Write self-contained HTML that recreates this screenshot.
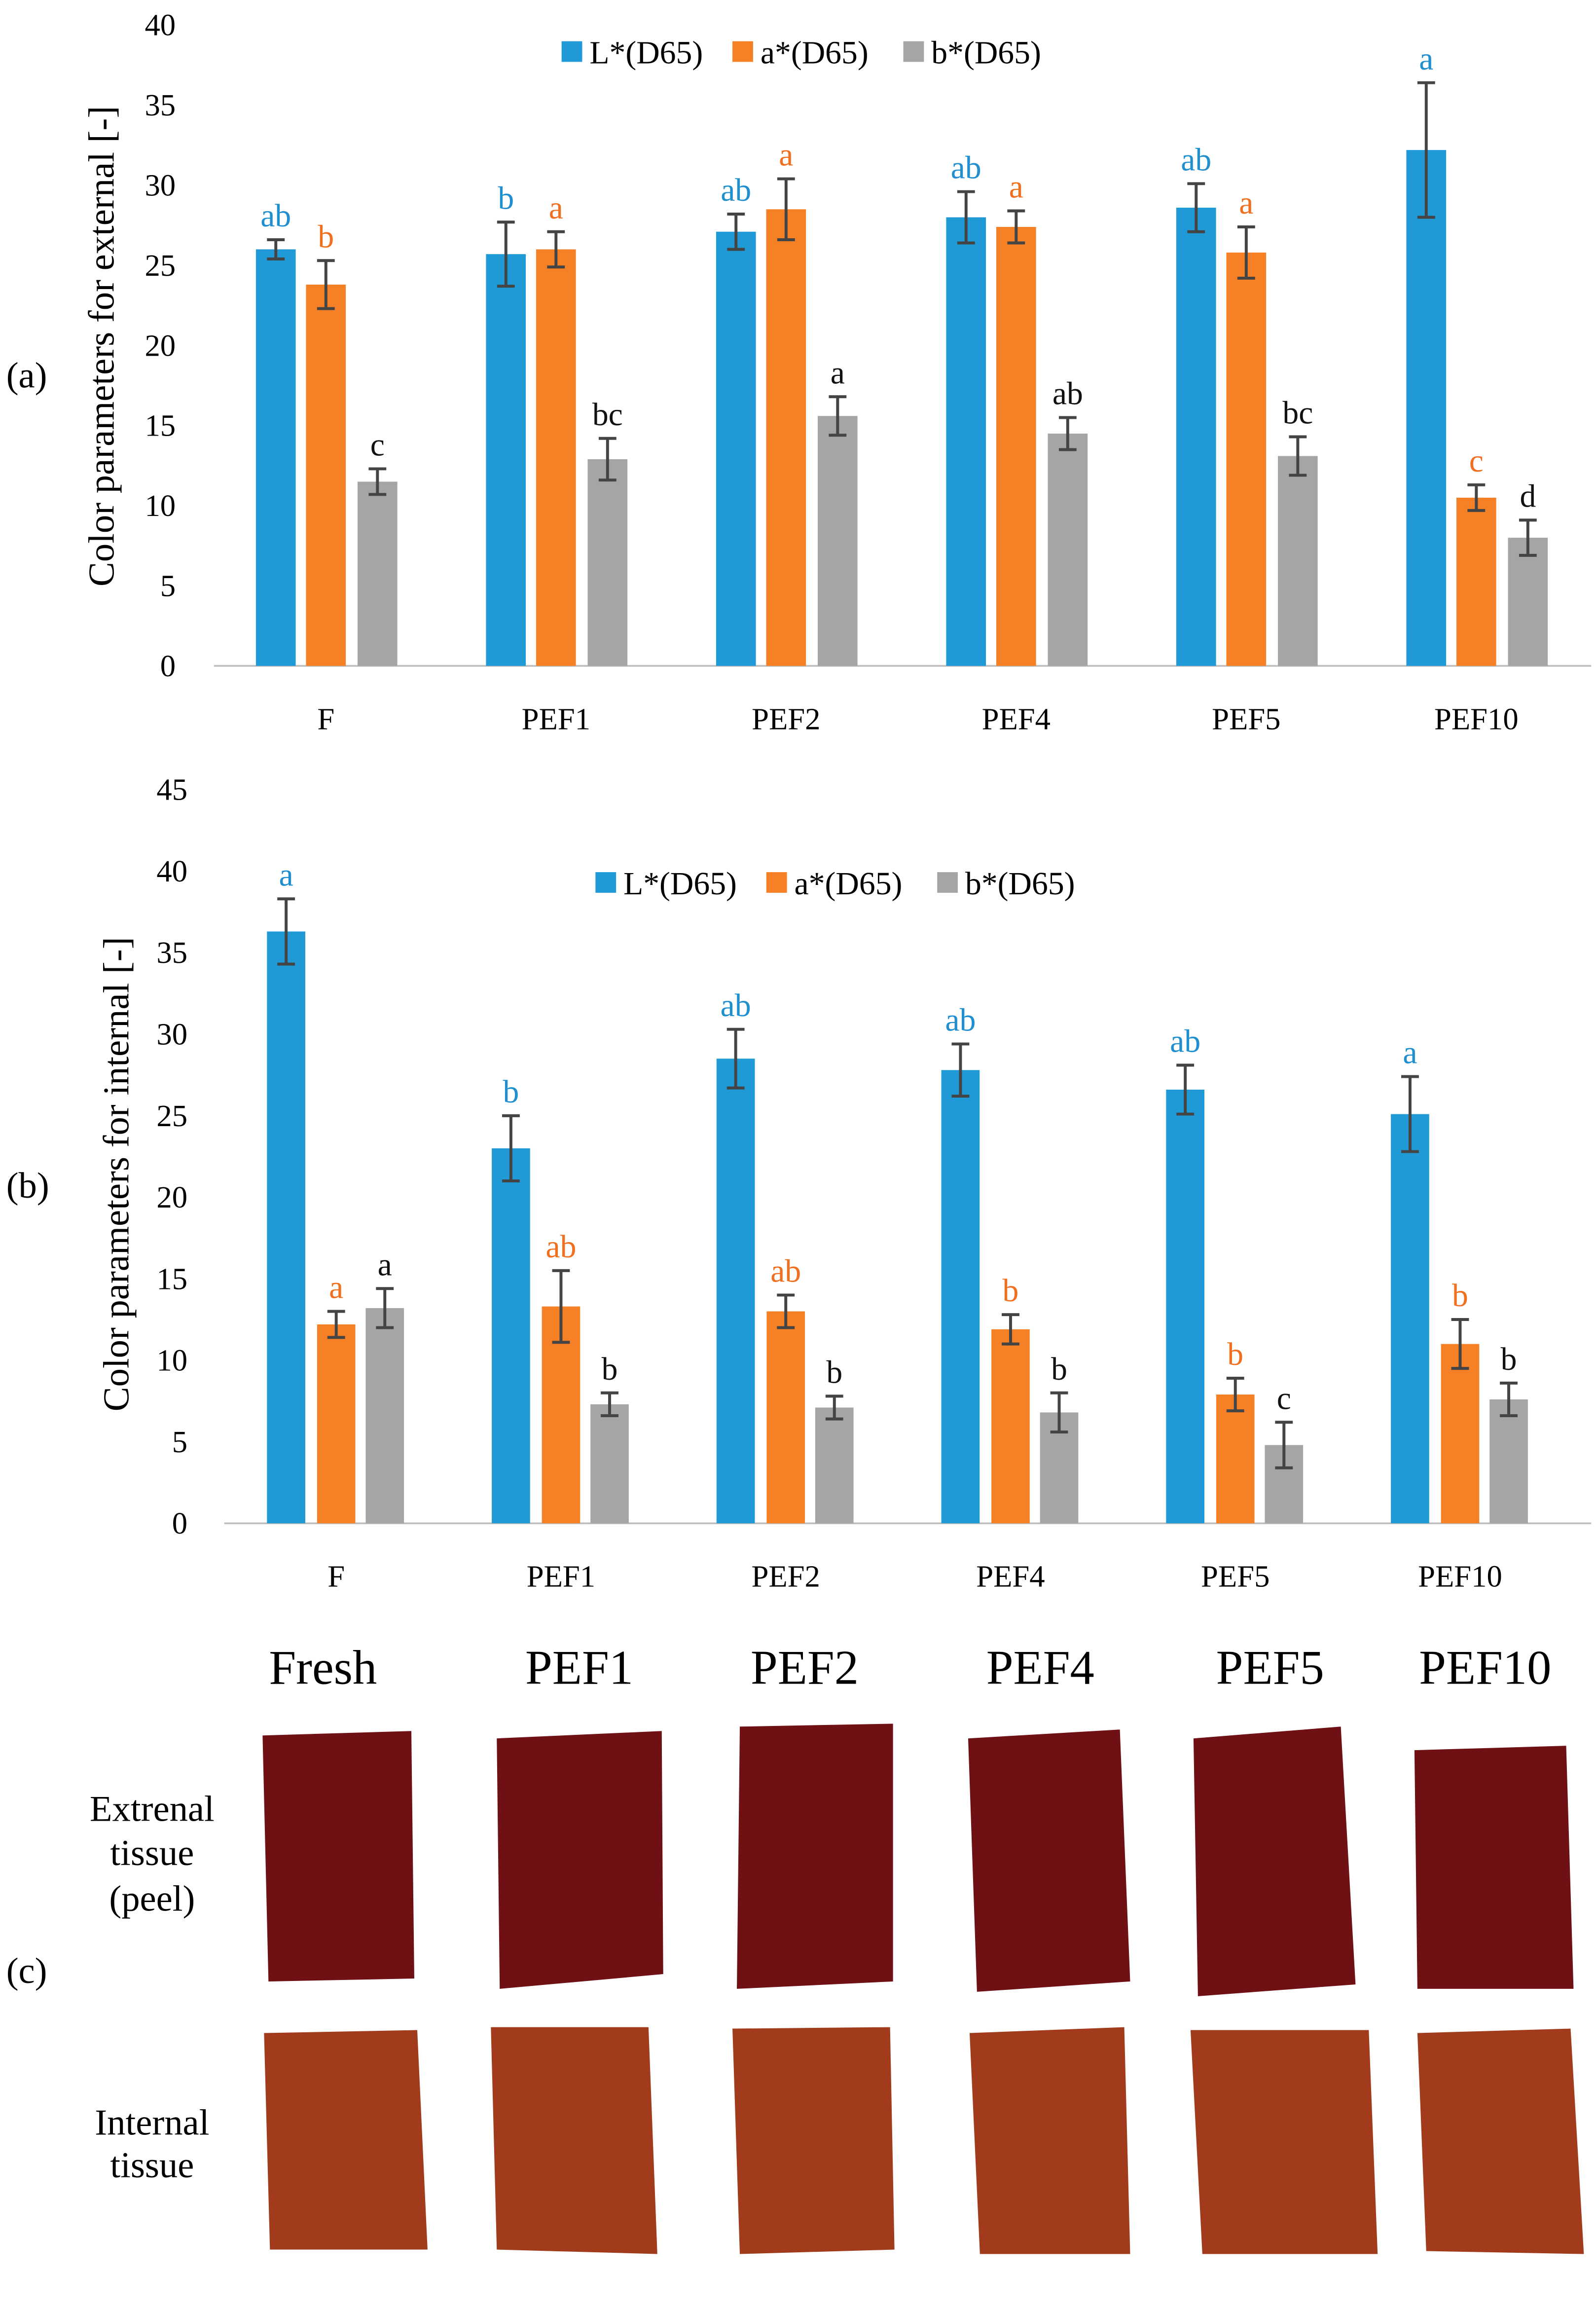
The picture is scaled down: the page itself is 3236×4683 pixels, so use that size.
<!DOCTYPE html>
<html><head><meta charset="utf-8"><style>
html,body{margin:0;padding:0;background:#fff;}
svg{display:block;}
text{font-family:"Liberation Serif",serif;}
</style></head><body>
<svg id="fig" width="3236" height="4683" viewBox="0 0 1083 1568" xmlns="http://www.w3.org/2000/svg">
<g id="chartA"></g>
<g id="chartB"></g>
<g id="photos"></g>
</svg>
<script>
const categories=["F","PEF1","PEF2","PEF4","PEF5","PEF10"];
const seriesNames=["L*(D65)","a*(D65)","b*(D65)"];
const extL=[26,25.7,27.1,28,28.6,32.2];
const extA=[23.8,26,28.5,27.4,25.8,10.5];
const extB=[11.5,12.9,15.6,14.5,13.1,8];
const extLErr=[0.6,2,1.1,1.6,1.5,4.2];
const extAErr=[1.5,1.1,1.9,1,1.6,0.8];
const extBErr=[0.8,1.3,1.2,1,1.2,1.1];
const extLLet=["ab","b","ab","ab","ab","a"];
const extALet=["b","a","a","a","a","c"];
const extBLet=["c","bc","a","ab","bc","d"];
const intL=[36.3,23,28.5,27.8,26.6,25.1];
const intA=[12.2,13.3,13,11.9,7.9,11];
const intB=[13.2,7.3,7.1,6.8,4.8,7.6];
const intLErr=[2,2,1.8,1.6,1.5,2.3];
const intAErr=[0.8,2.2,1,0.9,1,1.5];
const intBErr=[1.2,0.7,0.7,1.2,1.4,1];
const intLLet=["a","b","ab","ab","ab","a"];
const intALet=["a","ab","ab","b","b","b"];
const intBLet=["a","b","b","b","c","b"];
const ticksA=[0,5,10,15,20,25,30,35,40];
const ticksB=[0,5,10,15,20,25,30,35,40,45];
const colors=["#1f9ad6","#f58025","#a5a5a5"];
const letColors=["#1f8fcf","#f07020","#111"];
const NS="http://www.w3.org/2000/svg";
function mk(p,t,a,txt){const e=document.createElementNS(NS,t);for(const k in a)e.setAttribute(k,a[k]);if(txt!==undefined)e.textContent=txt;p.appendChild(e);return e;}

function chart(g,cfg){
  const y=v=>cfg.y0-(v/cfg.ymax)*(cfg.y0-cfg.ytop);
  const x=i=>cfg.x0+i*cfg.step;
  const ax=mk(g,'line',{x1:cfg.axL,x2:cfg.axR,y1:cfg.y0,y2:cfg.y0,stroke:'#bfbfbf','stroke-width':1.2});
  
  cfg.ticks.forEach(t=>{const e=mk(g,'text',{x:cfg.tickX,y:y(t)+7,'text-anchor':'end','font-size':21},String(t));
    });
  categories.forEach((c,i)=>{const e=mk(g,'text',{x:x(i),y:cfg.y0+43,'text-anchor':'middle','font-size':21},c);
    });
  const vals=[cfg.L,cfg.A,cfg.B],errs=[cfg.LE,cfg.AE,cfg.BE],lets=[cfg.LL,cfg.AL,cfg.BL];
  for(let s=0;s<3;s++){
    categories.forEach((c,i)=>{
      const cx=x(i)+cfg.off[s],v=vals[s][i],e=errs[s][i];
      const r=mk(g,'rect',{x:cx-cfg.bw/2,y:y(v),width:cfg.bw,height:cfg.y0-y(v),fill:colors[s]});
      
      const eb=mk(g,'path',{d:`M${cx},${y(v+e)}V${y(v-e)}M${cx-6},${y(v+e)}H${cx+6}M${cx-6},${y(v-e)}H${cx+6}`,stroke:'#444','stroke-width':2,fill:'none'});
      
      const lt=mk(g,'text',{x:cx,y:y(v+e)-9,'text-anchor':'middle','font-size':22,fill:letColors[s]},lets[s][i]);
      
    });
    const lx=cfg.legX+s*116;
    const sq=mk(g,'rect',{x:lx,y:cfg.legY-8,width:14,height:14,fill:colors[s]});
    
    const lt=mk(g,'text',{x:lx+19,y:cfg.legY+7,'font-size':22,'font-family':'Liberation Sans, sans-serif'},seriesNames[s]);
    
  }
  const ttl=mk(g,'text',{x:0,y:0,'text-anchor':'middle','font-size':25,transform:`translate(${cfg.titleX},${cfg.titleY}) rotate(-90)`},cfg.title);
  
  const pl=mk(g,'text',{x:4,y:cfg.panelY,'font-size':25},cfg.panel);
  
}
chart(document.getElementById('chartA'),{y0:452,ytop:17,ymax:40,x0:221,step:156.2,axL:145,axR:1080,bw:27,off:[-34,0,35],
  ticks:ticksA,tickX:119,L:extL,A:extA,B:extB,LE:extLErr,AE:extAErr,BE:extBErr,LL:extLLet,AL:extALet,BL:extBLet,
  legX:381,legY:36,title:"Color parameters for external [-]",titleX:77,titleY:235,panel:"(a)",panelY:263});
chart(document.getElementById('chartB'),{y0:1034,ytop:536,ymax:45,x0:228,step:152.6,axL:152,axR:1080,bw:26,off:[-34,0,33],
  ticks:ticksB,tickX:127,L:intL,A:intA,B:intB,LE:intLErr,AE:intAErr,BE:intBErr,LL:intLLet,AL:intALet,BL:intBLet,
  legX:404,legY:600,title:"Color parameters for internal [-]",titleX:87,titleY:797,panel:"(b)",panelY:813});

const P=document.getElementById('photos');
const heads=["Fresh","PEF1","PEF2","PEF4","PEF5","PEF10"];
const headX=[219,393,546,706,862,1008];
const extPoly=["178,1178 279,1175 281,1343 182,1345","337,1180 449,1175 450,1340 339,1350","502,1172 606,1170 606,1345 500,1350","657,1180 760,1174 767,1345 663,1352","810,1180 910,1172 920,1347 813,1355","960,1188 1063,1185 1068,1350 962,1350"];
const intPoly=["179,1380 283,1378 290,1527 183,1527","333,1376 440,1376 446,1530 337,1527","497,1377 604,1376 607,1527 502,1530","658,1380 763,1376 767,1530 665,1530","808,1378 929,1378 935,1530 816,1530","962,1380 1066,1377 1075,1530 968,1528"];
heads.forEach((h,i)=>{
  const t=mk(P,'text',{x:headX[i],y:1143,'text-anchor':'middle','font-size':33},h);
  
  const e=mk(P,'polygon',{points:extPoly[i],fill:'#6e1014'});
  
  const n=mk(P,'polygon',{points:intPoly[i],fill:'#a23b1b'});
  
});
[["Extrenal",1236],["tissue",1266],["(peel)",1297],["Internal",1449],["tissue",1478]].forEach(([s,yy])=>{
  const t=mk(P,'text',{x:103,y:yy,'text-anchor':'middle','font-size':25},s);
  
});
const pc=mk(P,'text',{x:4,y:1346,'font-size':25},"(c)");

</script>
</body></html>
